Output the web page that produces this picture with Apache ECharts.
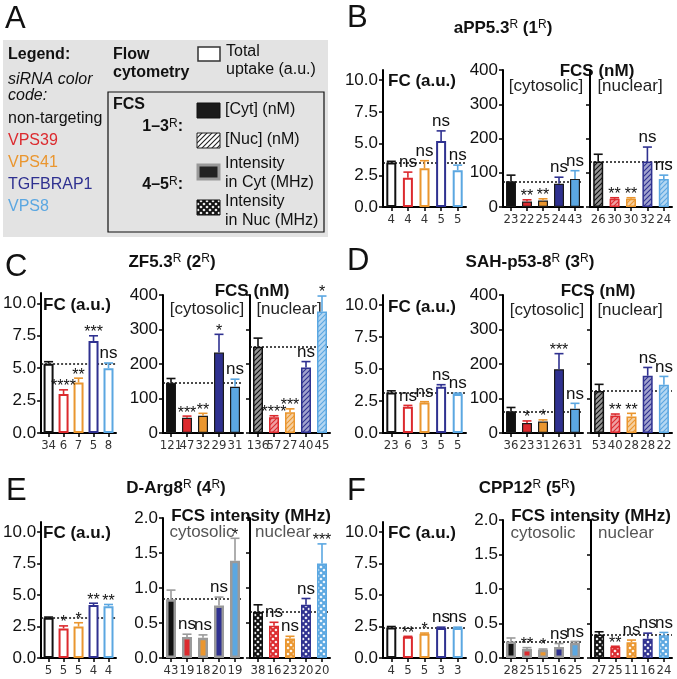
<!DOCTYPE html>
<html>
<head>
    <meta charset="utf-8">
    <title>siRNA knockdown - uptake</title>
    <script src="https://cdn.jsdelivr.net/npm/echarts@6.0.0/dist/echarts.min.js"></script>
</head>
<style>
    html, body { margin: 0; padding: 0; background: #fff; }
    #main { width: 677px; height: 679px; }
</style>
<body>
<div id="main"></div>
<script type="text/javascript">
    var groups = ['non-targeting', 'VPS39', 'VPS41', 'TGFBRAP1', 'VPS8'];
    var colors = ['#111111', '#dc2a2e', '#ea962f', '#2f3190', '#5ba7e1'];

    // B  aPP5.3R
    var bFcVal = [3.5, 2.3, 3.05, 5.2, 2.9];
    var bFcErr = [3.6, 2.75, 3.65, 6.0, 3.3];
    var bFcN = ['4', '4', '4', '5', '5'];
    var bFcSig = ['', 'ns', 'ns', 'ns', 'ns'];
    var bCytVal = [75, 16, 19, 68, 82];
    var bCytErr = [93, 21, 24, 87, 106];
    var bCytN = ['23', '22', '25', '24', '43'];
    var bCytSig = ['', '**', '**', 'ns', 'ns'];
    var bNucVal = [133, 24, 24, 133, 82];
    var bNucErr = [154, 27, 27, 175, 93];
    var bNucN = ['26', '30', '30', '32', '24'];
    var bNucSig = ['', '**', '**', 'ns', 'ns'];

    // C  ZF5.3R
    var cFcVal = [5.35, 3.0, 3.9, 7.1, 5.0];
    var cFcErr = [5.5, 3.33, 4.23, 7.5, 5.4];
    var cFcN = ['34', '6', '7', '5', '8'];
    var cFcSig = ['', '****', '**', '***', 'ns'];
    var cCytVal = [146, 44, 50, 233, 134];
    var cCytErr = [158, 49, 57, 286, 156];
    var cCytN = ['121', '47', '32', '29', '31'];
    var cCytSig = ['', '***', '**', '*', 'ns'];
    var cNucVal = [250, 46, 60, 190, 352];
    var cNucErr = [275, 50, 70, 207, 397];
    var cNucN = ['136', '57', '27', '40', '45'];
    var cNucSig = ['', '****', '***', 'ns', '*'];

    // D  SAH-p53-8R
    var dFcVal = [3.17, 2.06, 2.38, 3.62, 3.06];
    var dFcErr = [3.3, 2.16, 2.45, 3.78, 3.12];
    var dFcN = ['23', '6', '3', '5', '5'];
    var dFcSig = ['', 'ns', 'ns', 'ns', 'ns'];
    var dCytVal = [63, 29, 33, 185, 70];
    var dCytErr = [74, 35, 38, 230, 86];
    var dCytN = ['36', '23', '31', '26', '31'];
    var dCytSig = ['', '*', '*', '***', 'ns'];
    var dNucVal = [122, 51, 48, 166, 140];
    var dNucErr = [141, 55, 57, 190, 164];
    var dNucN = ['53', '40', '28', '28', '22'];
    var dNucSig = ['', '**', '**', 'ns', 'ns'];

    // E  D-Arg8R
    var eFcVal = [3.2, 2.35, 2.5, 4.2, 4.1];
    var eFcErr = [3.25, 2.55, 2.8, 4.35, 4.25];
    var eFcN = ['5', '5', '5', '4', '4'];
    var eFcSig = ['', '*', '*', '**', '**'];
    var eCytVal = [0.84, 0.3, 0.29, 0.75, 1.39];
    var eCytErr = [0.97, 0.34, 0.33, 0.87, 1.71];
    var eCytN = ['43', '19', '18', '20', '19'];
    var eCytSig = ['', 'ns', 'ns', 'ns', '*'];
    var eNucVal = [0.66, 0.46, 0.28, 0.76, 1.35];
    var eNucErr = [0.76, 0.51, 0.31, 0.85, 1.63];
    var eNucN = ['38', '16', '23', '20', '20'];
    var eNucSig = ['', 'ns', 'ns', 'ns', '***'];

    // F  CPP12R
    var fFcVal = [2.43, 1.68, 1.93, 2.38, 2.38];
    var fFcErr = [2.5, 1.72, 1.98, 2.45, 2.45];
    var fFcN = ['4', '5', '5', '3', '3'];
    var fFcSig = ['', '**', '*', 'ns', 'ns'];
    var fCytVal = [0.24, 0.13, 0.12, 0.16, 0.22];
    var fCytErr = [0.29, 0.15, 0.13, 0.21, 0.24];
    var fCytN = ['28', '25', '15', '16', '25'];
    var fCytSig = ['', '**', '*', 'ns', 'ns'];
    var fNucVal = [0.34, 0.16, 0.23, 0.28, 0.33];
    var fNucErr = [0.38, 0.17, 0.26, 0.36, 0.37];
    var fNucN = ['27', '25', '11', '16', '24'];
    var fNucSig = ['', '**', 'ns', 'ns', 'ns'];

    var FONT = '"Liberation Sans", Arial, Helvetica, sans-serif';
    var NARROW = '"Liberation Sans Narrow", "DejaVu Sans Condensed", "Liberation Sans", sans-serif';

    function tint(hex, t) {
        var n = parseInt(hex.slice(1), 16);
        var r = (n >> 16) & 255, g = (n >> 8) & 255, b = n & 255;
        return 'rgb(' + Math.round(r + (255 - r) * t) + ',' + Math.round(g + (255 - g) * t) + ',' + Math.round(b + (255 - b) * t) + ')';
    }
    function hatch(col, bg) {
        var c = document.createElement('canvas');
        c.width = c.height = 5;
        var x = c.getContext('2d');
        x.fillStyle = bg;
        x.fillRect(0, 0, 5, 5);
        x.strokeStyle = col;
        x.lineWidth = 1.1;
        x.beginPath();
        x.moveTo(0, 5); x.lineTo(5, 0);
        x.moveTo(-1, 1); x.lineTo(1, -1);
        x.moveTo(4, 6); x.lineTo(6, 4);
        x.stroke();
        return {image: c, repeat: 'repeat'};
    }
    function checker(col) {
        var c = document.createElement('canvas');
        c.width = c.height = 6;
        var x = c.getContext('2d');
        x.fillStyle = col;
        x.fillRect(0, 0, 6, 6);
        x.fillStyle = '#fff';
        [[3, 3], [0, 0], [6, 0], [0, 6], [6, 6]].forEach(function (p) {
            x.beginPath();
            x.moveTo(p[0], p[1] - 1.6); x.lineTo(p[0] + 1.6, p[1]);
            x.lineTo(p[0], p[1] + 1.6); x.lineTo(p[0] - 1.6, p[1]);
            x.closePath();
            x.fill();
        });
        return {image: c, repeat: 'repeat'};
    }

    // kind: fc | cyt (nM) | nuc (nM, hatched) | cytI (MHz) | nucI (MHz, checkered)
    var plots = [
        {left: 383, top: 70, width: 83, height: 137, kind: 'fc', v: bFcVal, e: bFcErr, n: bFcN, s: bFcSig},
        {left: 503, top: 70, width: 80, height: 137, kind: 'cyt', v: bCytVal, e: bCytErr, n: bCytN, s: bCytSig},
        {left: 590, top: 70, width: 82, height: 137, kind: 'nuc', v: bNucVal, e: bNucErr, n: bNucN, s: bNucSig},
        {left: 39, top: 293, width: 77, height: 140, kind: 'fc', v: cFcVal, e: cFcErr, n: cFcN, s: cFcSig},
        {left: 163, top: 295, width: 80, height: 138, kind: 'cyt', v: cCytVal, e: cCytErr, n: cCytN, s: cCytSig},
        {left: 250, top: 295, width: 80, height: 138, kind: 'nuc', v: cNucVal, e: cNucErr, n: cNucN, s: cNucSig},
        {left: 383, top: 295, width: 83, height: 138, kind: 'fc', v: dFcVal, e: dFcErr, n: dFcN, s: dFcSig},
        {left: 503, top: 295, width: 80, height: 138, kind: 'cyt', v: dCytVal, e: dCytErr, n: dCytN, s: dCytSig},
        {left: 591, top: 295, width: 81, height: 138, kind: 'nuc', v: dNucVal, e: dNucErr, n: dNucN, s: dNucSig},
        {left: 39, top: 522, width: 77, height: 136, kind: 'fc', v: eFcVal, e: eFcErr, n: eFcN, s: eFcSig},
        {left: 163, top: 518, width: 80, height: 140, kind: 'cytI', v: eCytVal, e: eCytErr, n: eCytN, s: eCytSig},
        {left: 250, top: 518, width: 80, height: 140, kind: 'nucI', v: eNucVal, e: eNucErr, n: eNucN, s: eNucSig},
        {left: 383, top: 522, width: 83, height: 136, kind: 'fc', v: fFcVal, e: fFcErr, n: fFcN, s: fFcSig},
        {left: 503, top: 520, width: 80, height: 138, kind: 'cytI', v: fCytVal, e: fCytErr, n: fCytN, s: fCytSig},
        {left: 591, top: 520, width: 81, height: 138, kind: 'nucI', v: fNucVal, e: fNucErr, n: fNucN, s: fNucSig}
    ];

    function barStyle(kind, i) {
        var c = colors[i];
        if (kind === 'fc') return {color: '#fff', borderColor: c, borderWidth: 2};
        if (kind === 'cyt') return {color: c, borderColor: '#1a1a1a', borderWidth: 1.2};
        if (kind === 'nuc') return {color: hatch(c, tint(c, 0.55)), borderColor: c, borderWidth: 1.5};
        if (kind === 'cytI') return {color: c, borderColor: '#9a9a9a', borderWidth: 2.5};
        return {color: checker(c), borderColor: c, borderWidth: 1.5};
    }
    function errColor(kind, i) {
        if (kind === 'cytI') return '#9a9a9a';
        if (kind === 'cyt' && i === 0) return '#111';
        return colors[i];
    }

    function yAxisFor(kind, k) {
        var ax = {
            type: 'value', gridIndex: k, min: 0,
            splitLine: {show: false},
            axisLine: {show: true, lineStyle: {color: '#000', width: 2}},
            axisTick: {show: true, length: 4, lineStyle: {color: '#000', width: 1.5}},
            axisLabel: {show: true, color: '#111', fontFamily: FONT, fontSize: 17, margin: 5}
        };
        if (kind === 'fc') {
            ax.max = 10.8;
            ax.axisTick.customValues = [0, 2.5, 5, 7.5, 10];
            ax.axisLabel.customValues = [0, 2.5, 5, 7.5, 10];
            ax.axisLabel.formatter = function (v) { return v.toFixed(1); };
        } else if (kind === 'cyt' || kind === 'nuc') {
            ax.max = 400;
            ax.interval = 100;
        } else {
            ax.max = 2;
            ax.interval = 0.5;
            ax.axisLabel.formatter = function (v) { return v.toFixed(1); };
        }
        if (kind === 'nuc' || kind === 'nucI') ax.axisLabel.show = false;
        return ax;
    }

    function errRender(p) {
        return function (params, api) {
            var i = api.value(0);
            var p0 = api.coord([i, api.value(1)]);
            var p1 = api.coord([i, api.value(2)]);
            var col = errColor(p.kind, i);
            var sig = p.s[params.dataIndex];
            var kids = [
                {type: 'line', shape: {x1: p0[0], y1: p0[1], x2: p1[0], y2: p1[1]}, style: {stroke: col, lineWidth: 1.6}},
                {type: 'line', shape: {x1: p1[0] - 4.5, y1: p1[1], x2: p1[0] + 4.5, y2: p1[1]}, style: {stroke: col, lineWidth: 1.6}}
            ];
            if (sig) {
                var star = sig.indexOf('*') >= 0;
                kids.push({
                    type: 'text', x: p1[0], y: star ? p1[1] + 5 : p1[1] - 1,
                    style: {
                        text: sig, fill: '#111',
                        font: (star ? '16px ' : '17px ') + FONT,
                        align: 'center', verticalAlign: 'bottom',
                        textAlign: 'center', textVerticalAlign: 'bottom'
                    }
                });
            }
            return {type: 'group', children: kids};
        };
    }

    var option = {
        animation: false,
        backgroundColor: '#fff',
        grid: [], xAxis: [], yAxis: [], series: [], graphic: []
    };

    plots.forEach(function (p, k) {
        option.grid.push({left: p.left, top: p.top, width: p.width, height: p.height});
        option.xAxis.push({
            type: 'category', gridIndex: k, data: p.n,
            axisLine: {show: true, lineStyle: {color: '#000', width: 2}},
            axisTick: {show: true, alignWithLabel: true, length: 4, lineStyle: {color: '#000', width: 1.5}},
            axisLabel: {interval: 0, color: '#333', fontFamily: NARROW, fontSize: 13, margin: 6, hideOverlap: false},
            splitLine: {show: false}
        });
        option.yAxis.push(yAxisFor(p.kind, k));
        option.series.push({
            type: 'bar', xAxisIndex: k, yAxisIndex: k, barWidth: 10, z: 3,
            data: p.v.map(function (v, i) { return {value: v, name: groups[i], itemStyle: barStyle(p.kind, i)}; }),
            markLine: {
                silent: true, symbol: 'none', z: 1,
                label: {show: false},
                lineStyle: {type: [2, 2], color: '#111', width: 1.5},
                data: [{yAxis: p.v[0]}]
            }
        });
        option.series.push({
            type: 'custom', xAxisIndex: k, yAxisIndex: k, z: 4,
            data: p.v.map(function (v, i) { return [i, v, p.e[i]]; }),
            renderItem: errRender(p)
        });
    });

    // text helpers
    function txt(str, x, y, size, opts) {
        opts = opts || {};
        return {
            type: 'text', x: x, y: y, silent: true,
            style: {
                text: str,
                font: (opts.style || '') + ' ' + (opts.weight || 'normal') + ' ' + size + 'px ' + FONT,
                fill: opts.color || '#111',
                align: opts.align || 'left', verticalAlign: opts.va || 'middle',
                textAlign: opts.align || 'left', textVerticalAlign: opts.va || 'middle',
                rich: {s: {fontSize: Math.round(size * 0.72), fontFamily: FONT, fontWeight: 'normal', verticalAlign: 'top', padding: [0, 0, 6, 0]}}
            }
        };
    }

    var g = option.graphic;
    // panel letters
    g.push(txt('A', 5, 4, 31, {va: 'top'}));
    g.push(txt('B', 347, 3, 31, {va: 'top'}));
    g.push(txt('C', 5, 252, 31, {va: 'top'}));
    g.push(txt('D', 347, 246, 31, {va: 'top'}));
    g.push(txt('E', 6, 476, 31, {va: 'top'}));
    g.push(txt('F', 347, 476, 31, {va: 'top'}));

    // panel titles
    g.push(txt('aPP5.3{s|R} (1{s|R})', 503, 28, 17, {weight: 'bold', align: 'center'}));
    g.push(txt('ZF5.3{s|R} (2{s|R})', 172, 262, 17, {weight: 'bold', align: 'center'}));
    g.push(txt('SAH-p53-8{s|R} (3{s|R})', 530, 262, 17, {weight: 'bold', align: 'center'}));
    g.push(txt('D-Arg8{s|R} (4{s|R})', 176, 488, 17, {weight: 'bold', align: 'center'}));
    g.push(txt('CPP12{s|R} (5{s|R})', 527, 488, 17, {weight: 'bold', align: 'center'}));

    // sub-panel headers
    [[388, 81], [43, 305], [388, 307], [43, 533], [388, 533]].forEach(function (q) {
        g.push(txt('FC (a.u.)', q[0], q[1], 17, {weight: 'bold'}));
    });
    [[597, 71, 546, 630, 86], [252, 291, 207, 289, 309], [598, 291, 547, 630, 310]].forEach(function (q) {
        g.push(txt('FCS (nM)', q[0], q[1], 17, {weight: 'bold', align: 'center'}));
        g.push(txt('[cytosolic]', q[2], q[4], 17, {align: 'center', color: '#222'}));
        g.push(txt('[nuclear]', q[3], q[4], 17, {align: 'center', color: '#222'}));
    });
    [[251, 516, 202, 283, 532], [591, 516, 543, 626, 533]].forEach(function (q) {
        g.push(txt('FCS intensity (MHz)', q[0], q[1], 17, {weight: 'bold', align: 'center'}));
        g.push(txt('cytosolic', q[2], q[4], 17, {align: 'center', color: '#555'}));
        g.push(txt('nuclear', q[3], q[4], 17, {align: 'center', color: '#555'}));
    });

    // panel A legend
    g.push({type: 'rect', silent: true, z: -1, shape: {x: 3, y: 40, width: 325, height: 197}, style: {fill: '#e3e3e3'}});
    g.push({type: 'rect', silent: true, shape: {x: 108, y: 92, width: 216, height: 140}, style: {fill: 'none', stroke: '#111', lineWidth: 1.2}});
    g.push(txt('Legend:', 8, 55, 16, {weight: 'bold'}));
    g.push(txt('siRNA color', 8, 80, 16, {style: 'italic'}));
    g.push(txt('code:', 8, 96, 16, {style: 'italic'}));
    groups.forEach(function (name, i) {
        g.push(txt(name, 8, 119 + i * 22, 16, {color: colors[i]}));
    });
    g.push(txt('Flow', 113, 55, 16, {weight: 'bold'}));
    g.push(txt('cytometry', 113, 73, 16, {weight: 'bold'}));
    g.push({type: 'rect', silent: true, shape: {x: 198, y: 47, width: 22, height: 14}, style: {fill: '#fff', stroke: '#333', lineWidth: 1.5}});
    g.push(txt('Total', 226, 52, 16));
    g.push(txt('uptake (a.u.)', 226, 70, 16));
    g.push(txt('FCS', 113, 105, 16, {weight: 'bold'}));
    g.push(txt('1\u20133{s|R}:', 183, 127, 16, {weight: 'bold', align: 'right'}));
    g.push(txt('4\u20135{s|R}:', 183, 185, 16, {weight: 'bold', align: 'right'}));
    g.push({type: 'rect', silent: true, shape: {x: 197, y: 103, width: 23, height: 15}, style: {fill: '#1a1a1a', stroke: '#111', lineWidth: 1}});
    g.push(txt('[Cyt] (nM)', 225, 110, 16));
    g.push({type: 'rect', silent: true, shape: {x: 197, y: 133, width: 23, height: 15}, style: {fill: hatch('#222', '#fff'), stroke: '#222', lineWidth: 1}});
    g.push(txt('[Nuc] (nM)', 225, 140, 16));
    g.push({type: 'rect', silent: true, shape: {x: 198, y: 165, width: 21, height: 14}, style: {fill: '#222', stroke: '#999', lineWidth: 3}});
    g.push(txt('Intensity', 225, 164, 16));
    g.push(txt('in Cyt (MHz)', 225, 183, 16));
    g.push({type: 'rect', silent: true, shape: {x: 197, y: 200, width: 23, height: 15}, style: {fill: checker('#111'), stroke: '#111', lineWidth: 1}});
    g.push(txt('Intensity', 225, 202, 16));
    g.push(txt('in Nuc (MHz)', 225, 221, 16));

    var myChart = echarts.init(document.getElementById('main'));
    myChart.setOption(option);
</script>
</body>
</html>
